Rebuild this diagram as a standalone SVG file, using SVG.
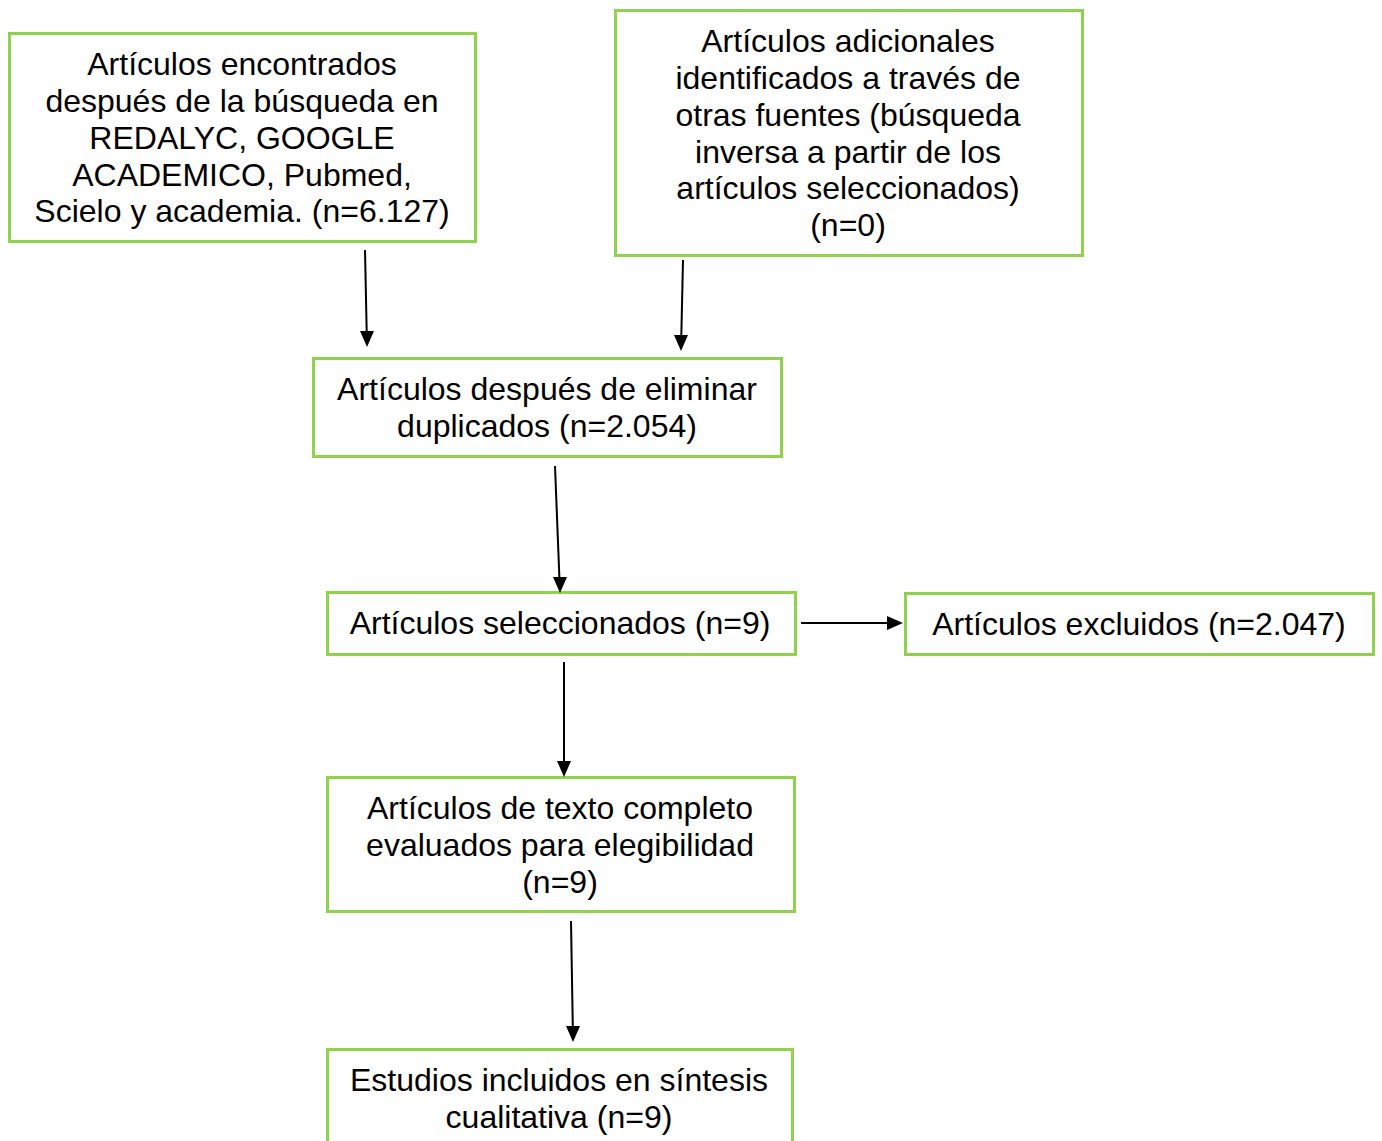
<svg xmlns="http://www.w3.org/2000/svg" width="1382" height="1141" viewBox="0 0 1382 1141">
<style>
.box{fill:#fff;stroke:#92D050;stroke-width:3}
.t{font-family:"Liberation Sans",Arial,sans-serif;font-size:32px;fill:#000;text-anchor:middle}
.c{stroke:#000;stroke-width:2;fill:none}
.h{fill:#000}
</style>
<rect width="1382" height="1141" fill="#fff"/>
<g id="n1"><rect class="box" x="9.5" y="33.5" width="466" height="208"/>
<text class="t" x="242" y="75">Artículos encontrados</text>
<text class="t" x="242" y="112">después de la búsqueda en</text>
<text class="t" x="242" y="149">REDALYC, GOOGLE</text>
<text class="t" x="242" y="186">ACADEMICO, Pubmed,</text>
<text class="t" x="242" y="222">Scielo y academia. (n=6.127)</text></g>
<g id="n2"><rect class="box" x="615.5" y="10.5" width="467" height="245"/>
<text class="t" x="848" y="52">Artículos adicionales</text>
<text class="t" x="848" y="89">identificados a través de</text>
<text class="t" x="848" y="126">otras fuentes (búsqueda</text>
<text class="t" x="848" y="163">inversa a partir de los</text>
<text class="t" x="848" y="199">artículos seleccionados)</text>
<text class="t" x="848" y="236">(n=0)</text></g>
<g id="n3"><rect class="box" x="313.5" y="358.5" width="468" height="98"/>
<text class="t" x="547" y="400">Artículos después de eliminar</text>
<text class="t" x="547" y="437">duplicados (n=2.054)</text></g>
<g id="n4"><rect class="box" x="327.5" y="592.5" width="468" height="62"/>
<text class="t" x="560" y="634">Artículos seleccionados (n=9)</text></g>
<g id="n5"><rect class="box" x="905.5" y="593.5" width="468" height="61"/>
<text class="t" x="1139" y="635">Artículos excluidos (n=2.047)</text></g>
<g id="n6"><rect class="box" x="327.5" y="777.5" width="467" height="134"/>
<text class="t" x="560" y="819">Artículos de texto completo</text>
<text class="t" x="560" y="856">evaluados para elegibilidad</text>
<text class="t" x="560" y="893">(n=9)</text></g>
<g id="n7"><rect class="box" x="327.5" y="1049.5" width="465" height="100"/>
<text class="t" x="559" y="1091">Estudios incluidos en síntesis</text>
<text class="t" x="559" y="1128">cualitativa (n=9)</text></g>
<g id="connectors">
<line class="c" x1="365" y1="250" x2="366.7" y2="332"/>
<polygon class="h" points="360,331 374,331 367,347"/>
<line class="c" x1="683" y1="260" x2="681.3" y2="336"/>
<polygon class="h" points="674,335 688,335 681,351"/>
<line class="c" x1="555" y1="466" x2="559.4" y2="578"/>
<polygon class="h" points="553,577 567,577 560,593"/>
<line class="c" x1="801" y1="623" x2="888" y2="623"/>
<polygon class="h" points="887,616 887,630 903,623"/>
<line class="c" x1="564" y1="662" x2="564" y2="762"/>
<polygon class="h" points="557,761 571,761 564,777"/>
<line class="c" x1="571" y1="921" x2="572.8" y2="1027"/>
<polygon class="h" points="566,1026 580,1026 573,1042"/>
</g>
</svg>
